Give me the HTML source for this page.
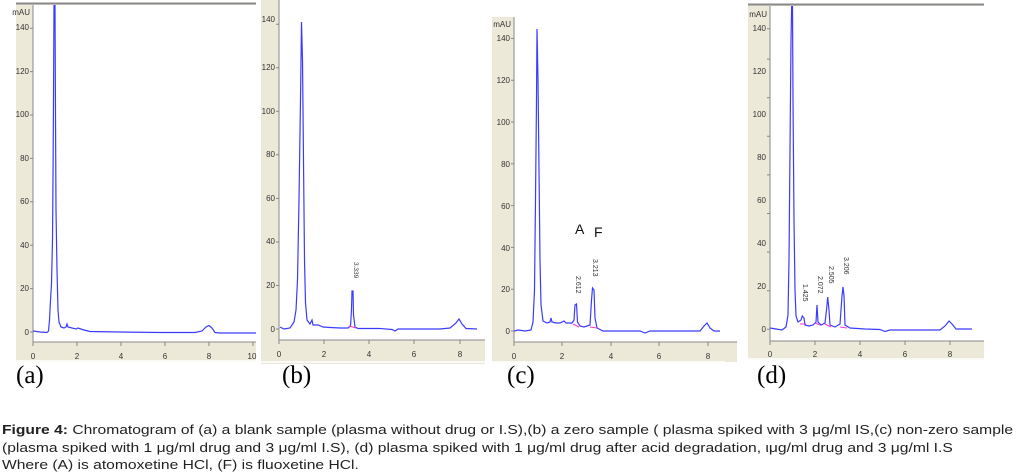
<!DOCTYPE html>
<html><head><meta charset="utf-8"><style>
body{margin:0;background:#fff;width:1023px;height:472px;overflow:hidden;position:relative}
svg{position:absolute;left:0;top:0}
.cap{position:absolute;left:2px;font-family:"Liberation Sans",sans-serif;font-size:13.3px;color:#222;white-space:nowrap;line-height:17.5px;transform:scaleX(1.175);transform-origin:0 0}
.lab{position:absolute;top:362px;font-family:"Liberation Serif",serif;font-size:25px;color:#000}
</style></head><body>
<svg width="1023" height="472" viewBox="0 0 1023 472" font-family="Liberation Sans,sans-serif">
<defs>
<clipPath id="ca"><rect x="33" y="5" width="223" height="337"/></clipPath>
<clipPath id="cb"><rect x="279" y="0" width="206" height="340"/></clipPath>
<clipPath id="cc"><rect x="514" y="17" width="223" height="325"/></clipPath>
<clipPath id="cd"><rect x="770" y="6" width="214" height="335"/></clipPath>
</defs>
<!-- panel a -->
<rect x="16" y="3" width="240" height="359" fill="#ECE9D8"/>
<rect x="33" y="5" width="223" height="337" fill="#fff"/>
<line x1="16" y1="3.5" x2="256" y2="3.5" stroke="#888" stroke-width="2"/>
<line x1="16" y1="361" x2="256" y2="361" stroke="#fff" stroke-width="1.5"/>
<g stroke="#888" stroke-width="1"><line x1="33" y1="5" x2="33" y2="342"/><line x1="33" y1="342" x2="256" y2="342"/>
<path d="M30 332H33M30 288.6H33M30 245.2H33M30 201.8H33M30 158.4H33M30 115H33M30 71.6H33M30 28.2H33M33 342V346M77 342V346M121 342V346M165 342V346M209 342V346M253 342V346"/></g>
<g font-size="8" fill="#333" text-anchor="end">
<text x="29" y="335">0</text><text x="29" y="291">20</text><text x="29" y="248">40</text><text x="29" y="204">60</text><text x="29" y="161">80</text><text x="29" y="117">100</text><text x="29" y="74">120</text><text x="29" y="30">140</text><text x="30" y="15">mAU</text></g>
<g font-size="8" fill="#333" text-anchor="middle"><text x="33" y="359">0</text><text x="77" y="359">2</text><text x="121" y="359">4</text><text x="165" y="359">6</text><text x="209" y="359">8</text><text x="252" y="359">10</text></g>
<polyline clip-path="url(#ca)" fill="none" stroke="#3b3bff" stroke-width="1.2" points="33,331 40,332 47,332.5 48.5,331 49.5,320 50.5,300 51.5,284 52.5,240 53,180 53.5,100 54,5 55,5 55.5,115 56,210 57,270 58,310 59,322 61,327 64,328 66,327 67,324 68,327 72,328 76,329 78,328 84,330 90,331.5 120,332 160,332.5 195,332.5 202,331 206,327 209,325.5 212,328 215,332.5 220,333 256,333"/>
<!-- panel b -->
<rect x="261" y="0" width="224" height="364" fill="#ECE9D8"/>
<rect x="279" y="0" width="206" height="340" fill="#fff"/>
<line x1="261" y1="362" x2="485" y2="362" stroke="#fff" stroke-width="1.5"/>
<g stroke="#888"><line x1="279" y1="0" x2="279" y2="340"/><line x1="279" y1="340" x2="485" y2="340"/>
<path d="M276 329H279M276 285.5H279M276 242H279M276 198.4H279M276 154.8H279M276 111.3H279M276 67.8H279M276 24.2H279M279 340V344M324 340V344M369 340V344M414 340V344M460 340V344"/></g>
<g font-size="8" fill="#333" text-anchor="end">
<text x="275" y="332">0</text><text x="275" y="288">20</text><text x="275" y="244">40</text><text x="275" y="201">60</text><text x="275" y="157">80</text><text x="275" y="114">100</text><text x="275" y="70">120</text><text x="275" y="22">140</text></g>
<g font-size="8" fill="#333" text-anchor="middle"><text x="279" y="357">0</text><text x="324" y="357">2</text><text x="369" y="357">4</text><text x="414" y="357">6</text><text x="460" y="357">8</text></g>
<polyline clip-path="url(#cb)" fill="none" stroke="#3b3bff" stroke-width="1.2" points="280,327 284,329 290,328 294,322 296,310 297.5,280 299,200 300.5,100 301.5,22 302.5,60 303.5,160 304.5,260 305.5,303 307,320 310,324 312,320 313,325 318,325 323,327 330,327.5 340,328 348,328 350.5,326 351.5,310 352,291 353,291 353.5,315 355,327 358,328.5 380,328.5 392,329.5 395,331 398,329 420,329 440,329 450,328 456,323 459,319 462,324 466,328.5 477,329"/>
<line x1="349" y1="326" x2="356" y2="328" stroke="#ff33cc" stroke-width="1"/>
<text transform="translate(354,262) rotate(90)" font-size="6.5" fill="#333">3.339</text>
<!-- panel c -->
<rect x="492" y="17" width="245" height="345" fill="#ECE9D8"/>
<rect x="514" y="17" width="223" height="325" fill="#fff"/>
<line x1="492" y1="362" x2="725" y2="362" stroke="#fff" stroke-width="1.5"/>
<g stroke="#888"><line x1="514" y1="17" x2="514" y2="342"/><line x1="514" y1="342" x2="737" y2="342"/>
<path d="M511 331H514M511 289.2H514M511 247.4H514M511 205.6H514M511 163.8H514M511 122H514M511 80.2H514M511 38.4H514M514 342V346M562 342V346M611 342V346M659 342V346M708 342V346"/></g>
<g font-size="8" fill="#333" text-anchor="end">
<text x="510" y="334">0</text><text x="510" y="292">20</text><text x="510" y="251">40</text><text x="510" y="209">60</text><text x="510" y="167">80</text><text x="510" y="125">100</text><text x="510" y="83">120</text><text x="510" y="41">140</text><text x="511" y="27">mAU</text></g>
<g font-size="8" fill="#333" text-anchor="middle"><text x="514" y="359">0</text><text x="562" y="359">2</text><text x="611" y="359">4</text><text x="659" y="359">6</text><text x="708" y="359">8</text></g>
<polyline clip-path="url(#cc)" fill="none" stroke="#3b3bff" stroke-width="1.2" points="514,331 518,330 525,331 531,330 533,322 534.5,290 535.5,200 536.5,100 537,29 538,80 539,170 540,260 541,305 543,321 547,323 550,322 551,318 552,322 556,323 560,323 564,321 566,323 572,323 574,320 575,305 576.5,304 577.5,322 580,326 584,327 590,325 591.5,300 592.5,288 594,290 595,318 597,328 603,331 640,331 645,333 650,331 700,331 704,326 707,323 710,328 714,331 720,331"/>
<g stroke="#ff33cc"><line x1="573" y1="324" x2="579" y2="327"/><line x1="590" y1="327" x2="597" y2="328"/></g>
<text x="575" y="234" font-size="14" fill="#111">A</text>
<text x="594" y="237" font-size="14" fill="#111">F</text>
<text transform="translate(576,276) rotate(90)" font-size="7" fill="#333">2.612</text>
<text transform="translate(593,259) rotate(90)" font-size="7" fill="#333">3.213</text>
<!-- panel d -->
<rect x="748" y="4" width="236" height="356" fill="#ECE9D8"/>
<rect x="770" y="6" width="214" height="335" fill="#fff"/>
<line x1="748" y1="4.5" x2="984" y2="4.5" stroke="#888" stroke-width="2"/>
<line x1="748" y1="359" x2="984" y2="359" stroke="#fff" stroke-width="1.5"/>
<g stroke="#888"><line x1="770" y1="6" x2="770" y2="341"/><line x1="770" y1="341" x2="984" y2="341"/>
<path d="M767 329.3H770M767 290.7H770M767 252.1H770M767 213.5H770M767 174.9H770M767 136.3H770M767 97.7H770M767 59.1H770M767 28.7H770M770 341V345M815 341V345M860 341V345M905 341V345M950 341V345"/></g>
<g font-size="8" fill="#333" text-anchor="end">
<text x="766" y="332">0</text><text x="766" y="289">20</text><text x="766" y="246">40</text><text x="766" y="203">60</text><text x="766" y="160">80</text><text x="766" y="117">100</text><text x="766" y="74">120</text><text x="766" y="31">140</text><text x="767" y="17">mAU</text></g>
<g font-size="8" fill="#333" text-anchor="middle"><text x="770" y="357">0</text><text x="815" y="357">2</text><text x="860" y="357">4</text><text x="905" y="357">6</text><text x="950" y="357">8</text></g>
<polyline clip-path="url(#cd)" fill="none" stroke="#3b3bff" stroke-width="1.2" points="770,328 776,329 782,330 786,327 788,315 789,260 790,150 791,40 791.7,5 792.5,5 793,100 794,220 795,290 796,316 798,322 801,320 802.3,316 804,318 805,325 809,326 813,325 816,322 817,305 818,322 821,325 825,323 826.5,310 827.7,297 829,310 830,325 835,327 840,324 842,296 843,287 844,296 845,325 850,328 865,329 880,329.5 885,331.5 890,330 940,330 945,326 949,321 952,324 956,329 972,329"/>
<g stroke="#ff33cc"><line x1="800" y1="324" x2="806" y2="324"/><line x1="815" y1="323" x2="820" y2="325"/><line x1="825" y1="324" x2="831" y2="327"/><line x1="840" y1="327" x2="847" y2="328"/></g>
<text transform="translate(803,284) rotate(90)" font-size="7" fill="#333">1.425</text>
<text transform="translate(818,276) rotate(90)" font-size="7" fill="#333">2.072</text>
<text transform="translate(829,266) rotate(90)" font-size="7" fill="#333">2.505</text>
<text transform="translate(844,257) rotate(90)" font-size="7" fill="#333">3.206</text>
</svg>
<div class="lab" style="left:16px">(a)</div>
<div class="lab" style="left:282px">(b)</div>
<div class="lab" style="left:507px">(c)</div>
<div class="lab" style="left:757px">(d)</div>
<div class="cap" style="top:421px"><b>Figure 4:</b> Chromatogram of (a) a blank sample (plasma without drug or I.S),(b) a zero sample ( plasma spiked with 3 μg/ml IS,(c) non-zero sample</div>
<div class="cap" style="top:438.5px">(plasma spiked with 1 μg/ml drug and 3 μg/ml I.S), (d) plasma spiked with 1 μg/ml drug after acid degradation, ιμg/ml drug and 3 μg/ml I.S</div>
<div class="cap" style="top:456px">Where (A) is atomoxetine HCl, (F) is fluoxetine HCl.</div>
</body></html>
